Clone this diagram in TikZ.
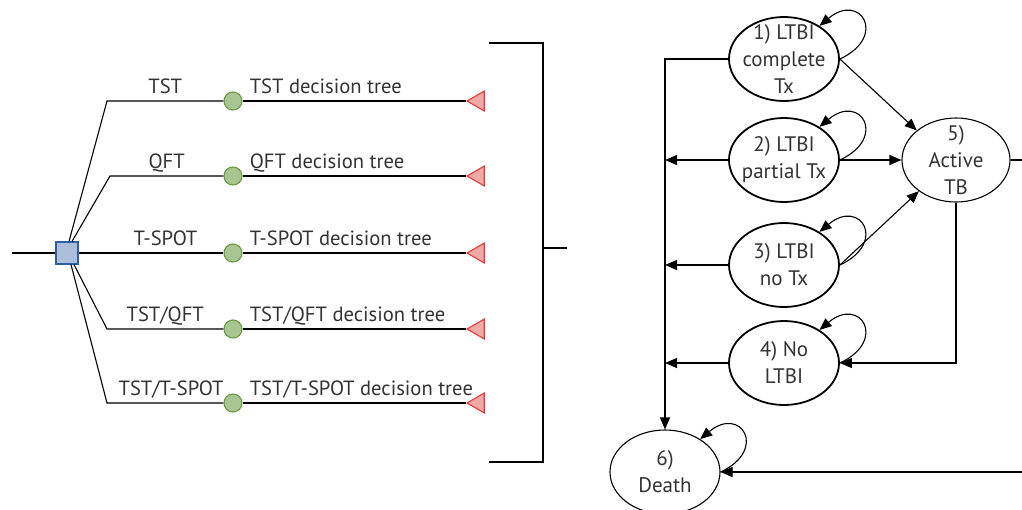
\documentclass[tikz,border=0pt]{standalone}
\usepackage{fontspec}
\setmainfont{PT Sans}
\usepackage{tikz}
\usetikzlibrary{arrows.meta,shapes.geometric,positioning}

\definecolor{decfill}{RGB}{172,190,218}
\definecolor{decdraw}{RGB}{46,95,160}
\definecolor{chfill}{RGB}{168,198,145}
\definecolor{chdraw}{RGB}{106,154,66}
\definecolor{tmfill}{RGB}{243,168,168}
\definecolor{tmdraw}{RGB}{225,60,60}
\definecolor{txtgray}{RGB}{51,51,51}

\begin{document}
\begin{tikzpicture}[x=0.5pt,y=-0.5pt,line width=0.55pt,
    font=\fontsize{10.3}{13.5}\selectfont,text=txtgray,
    >={Triangle[length=6pt,width=5pt]},
    decision/.style={draw=decdraw,fill=decfill,minimum size=11pt,inner sep=0pt},
    chance/.style={circle,draw=chdraw,fill=chfill,minimum size=9pt,inner sep=0pt},
    terminal/.style={regular polygon,regular polygon sides=3,shape border rotate=90,
      draw=tmdraw,fill=tmfill,minimum size=11.5pt,inner sep=0pt},
    state/.style={ellipse,draw=black,line width=0.9pt,minimum width=55pt,minimum height=42pt,inner sep=0pt},
    thinstate/.style={state,line width=0.55pt},
    inside/.style={align=center,text=txtgray,font=\fontsize{10.5}{13.5}\selectfont},
    selfloop/.style={out=25,in=40,looseness=3.5}]
  % Frame of the picture
  \clip (0,0) rectangle (1022,509);

  % Decision node
  \coordinate (in) at (12,253);
  \node (root) [decision] at (67,253) {};
  \draw (in) -- (root);

  % Chance nodes and end nodes
  \node (c1) [chance] at (233,101) {};
  \node (c2) [chance] at (233,176) {};
  \node (c3) [chance] at (233,253) {};
  \node (c4) [chance] at (233,329) {};
  \node (c5) [chance] at (233,403) {};
  \node (t1) [terminal] at (478.5,101) {};
  \node (t2) [terminal] at (478.5,176) {};
  \node (t3) [terminal] at (478.5,253) {};
  \node (t4) [terminal] at (478.5,329) {};
  \node (t5) [terminal] at (478.5,403) {};

  % Branches of the tree
  \coordinate (b1) at (107,101);
  \coordinate (b2) at (110,176);
  \coordinate (b4) at (107,329);
  \coordinate (b5) at (107,403);
  \draw ([xshift=1pt]root.north) -- (b1) -- (c1) node[midway,anchor=base,yshift=4pt] (l1) {TST};
  \draw ([xshift=2.5pt]root.north) -- (b2) -- (c2) node[midway,anchor=base,yshift=4pt] (l2) {QFT};
  \draw (root) -- (c3) node[pos=0.6,anchor=base,yshift=4pt] (l3) {T-SPOT};
  \draw ([xshift=3.5pt]root.south) -- (b4) -- (c4) node[midway,anchor=base,yshift=4pt] (l4) {TST/QFT};
  \draw ([xshift=2pt]root.south) -- (b5) -- (c5) node[pos=0.55,anchor=base,yshift=4pt] (l5) {TST/T-SPOT};
  \draw (c1) -- (t1.west);
  \draw (c2) -- (t2.west);
  \draw (c3) -- (t3.west);
  \draw (c4) -- (t4.west);
  \draw (c5) -- (t5.west);
  \node (d1) [anchor=base west] at ([yshift=4pt]c1.east) {TST decision tree};
  \node (d2) [anchor=base west] at ([yshift=4pt]c2.east) {QFT decision tree};
  \node (d3) [anchor=base west] at ([yshift=4pt]c3.east) {T-SPOT decision tree};
  \node (d4) [anchor=base west] at ([yshift=4pt]c4.east) {TST/QFT decision tree};
  \node (d5) [anchor=base west] at ([yshift=4pt]c5.east) {TST/T-SPOT decision tree};

  % Bracket to the Markov model
  \coordinate (bt) at (489,43);
  \coordinate (bb) at (489,462);
  \coordinate (bm) at (567,248);
  \draw (bt) -- (543,43) -- (543,462) -- (bb);
  \draw (543,248) -- (bm);

  % Markov states
  \node (s1) [state,label={[inside]center:1) LTBI\\complete\\Tx}] at (784,59) {};
  \node (s2) [state,label={[inside]center:2) LTBI\\partial Tx}] at (784,160) {};
  \node (s3) [state,label={[inside]center:3) LTBI\\no Tx}] at (784,265) {};
  \node (s4) [state,label={[inside]center:4) No\\LTBI}] at (784,363) {};
  \node (s5) [thinstate,minimum width=54pt,label={[inside]center:5)\\Active\\TB}] at (956,160) {};
  \node (s6) [thinstate,label={[inside]center:6)\\Death}] at (665,472) {};

  % Transitions
  \draw[->] (s1.west) -| (s6.north);
  \draw[->] (s2.west) -- (s2.west -| s6.north);
  \draw[->] (s3.west) -- (s3.west -| s6.north);
  \draw[->] (s4.west) -- (s4.west -| s6.north);
  \draw[->] (s1.east) -- (s5.143);
  \draw[->] (s2.east) -- (s5.west);
  \draw[->] (s3.east) -- (s5.-140);
  \draw[->] (s5.south) |- (s4.east);
  \draw[->] (s5.east) -- ++(20,0) |- (s6.east);

  % Self loops
  \draw[->] (s1.east) to[selfloop] (s1.43);
  \draw[->] (s2.east) to[selfloop] (s2.43);
  \draw[->] (s3.east) to[selfloop] (s3.43);
  \draw[->] (s4.east) to[selfloop] (s4.43);
  \draw[->] (s6.east) to[selfloop] (s6.43);
\end{tikzpicture}
\end{document}
